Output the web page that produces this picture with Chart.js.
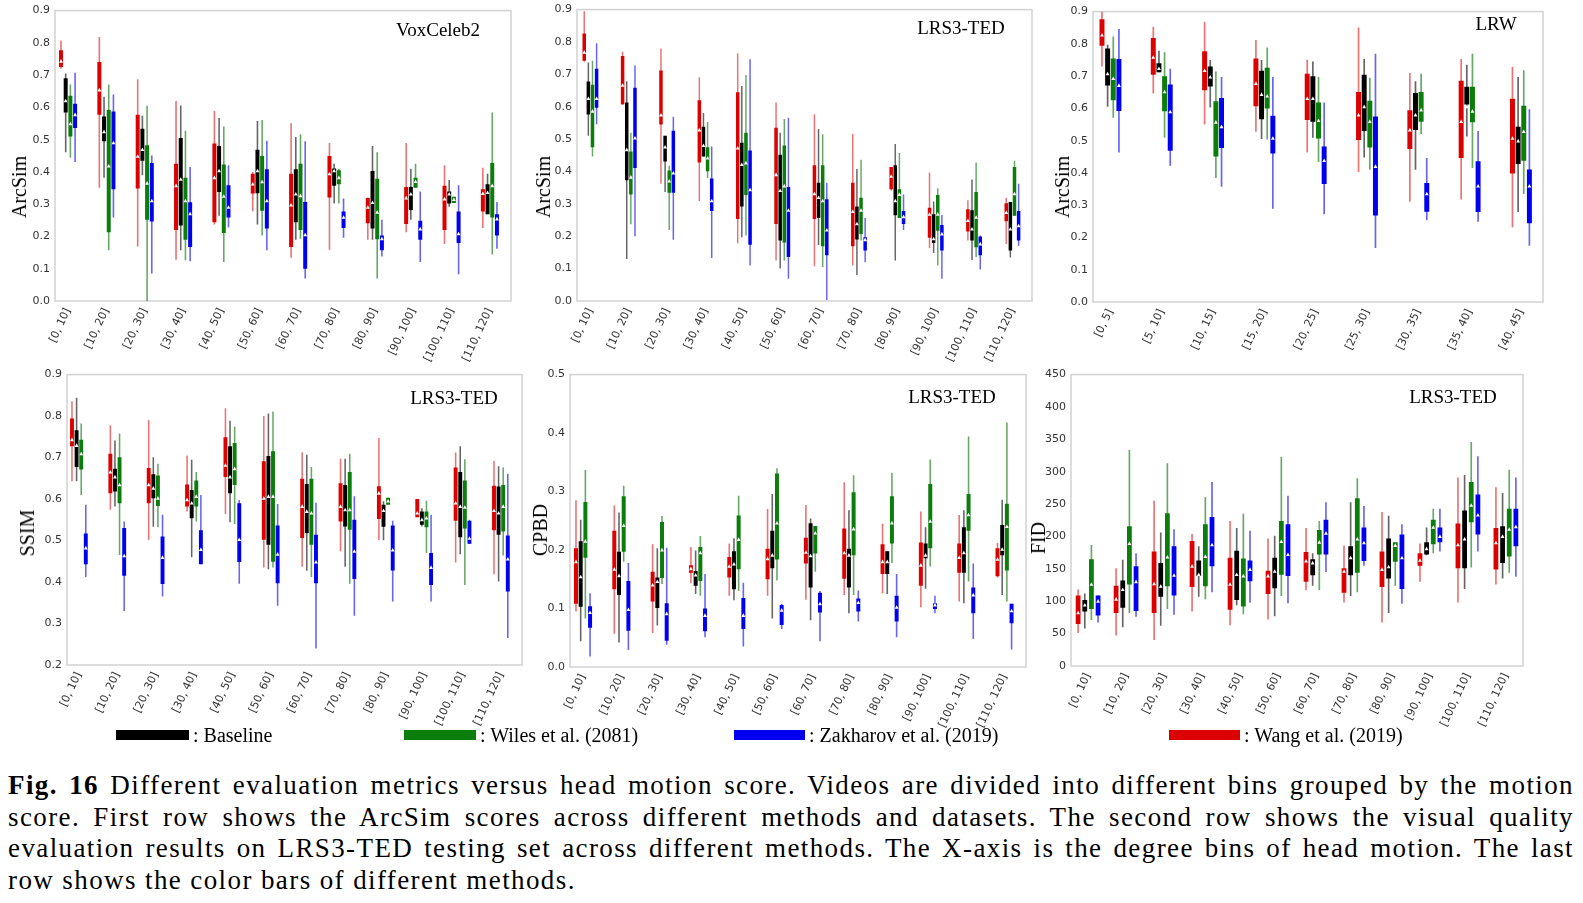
<!DOCTYPE html>
<html><head><meta charset="utf-8">
<script src="https://cdn.jsdelivr.net/npm/chart.js@4.4.0/dist/chart.umd.min.js"></script>
<style>
body{margin:0;background:#fff;width:1583px;height:903px;position:relative;overflow:hidden;}
canvas{position:absolute;}
.yt{position:absolute;font-family:'Liberation Serif',serif;font-size:20px;transform:translate(-50%,-50%) rotate(-90deg);white-space:nowrap;color:#000;line-height:1}
.pt{position:absolute;font-family:'Liberation Serif',serif;font-size:19px;transform:translate(-50%,-50%);white-space:nowrap;color:#000;line-height:1}
.lg{position:absolute;height:10px;}
.lt{position:absolute;font-family:'Liberation Serif',serif;font-size:20px;white-space:nowrap;line-height:1;transform:translateY(-50%)}
#cap{position:absolute;left:8px;top:770px;width:1566px;font-family:'Liberation Serif',serif;font-size:27px;letter-spacing:1.4px;line-height:31.7px;color:#000}
#cap div{text-align:justify;text-align-last:justify;white-space:nowrap}
#cap div.last{text-align-last:left}
</style></head><body>
<script>
// ---- categories & ticks ----
const bins10 = ['[0, 10]','[10, 20]','[20, 30]','[30, 40]','[40, 50]','[50, 60]','[60, 70]','[70, 80]','[80, 90]','[90, 100]','[100, 110]','[110, 120]'];
const bins5 = ['[0, 5]','[5, 10]','[10, 15]','[15, 20]','[20, 25]','[25, 30]','[30, 35]','[35, 40]','[40, 45]'];
const ticksArc = [0,0.1,0.2,0.3,0.4,0.5,0.6,0.7,0.8,0.9];
const ticksSsim = [0.2,0.3,0.4,0.5,0.6,0.7,0.8,0.9];
const ticksCpbd = [0,0.1,0.2,0.3,0.4,0.5];
const ticksFid = [0,50,100,150,200,250,300,350,400,450];

// each row: [min, q1, q3, max, mean]
// VoxCeleb2 ArcSim
const voxWang = [[0.72,0.725,0.777,0.807,0.743],[0.351,0.577,0.741,0.818,0.654],[0.169,0.349,0.577,0.687,0.448],[0.128,0.22,0.425,0.62,0.357],[0.237,0.244,0.488,0.589,0.382],[0.278,0.333,0.394,0.4,0.362],[0.134,0.167,0.394,0.551,0.297],[0.159,0.321,0.449,0.49,0.394],[0.19,0.241,0.319,0.321,0.29],[0.213,0.239,0.353,0.49,0.319],[0.177,0.22,0.357,0.421,0.316],[0.226,0.277,0.346,0.413,0.333]];
const voxBase = [[0.461,0.584,0.69,0.705,0.62],[0.382,0.495,0.572,0.633,0.524],[0.39,0.435,0.534,0.574,0.469],[0.157,0.234,0.505,0.606,0.377],[0.264,0.338,0.48,0.567,0.403],[0.237,0.334,0.469,0.558,0.403],[0.19,0.244,0.408,0.508,0.331],[0.302,0.357,0.411,0.425,0.403],[0.19,0.225,0.403,0.48,0.305],[0.252,0.282,0.353,0.41,0.331],[0.292,0.302,0.339,0.375,0.331],[0.269,0.269,0.362,0.394,0.336]];
const voxWiles = [[0.444,0.51,0.636,0.671,0.549],[0.157,0.213,0.592,0.671,0.418],[0.0,0.252,0.483,0.605,0.365],[0.126,0.19,0.382,0.528,0.31],[0.121,0.211,0.423,0.541,0.324],[0.203,0.28,0.449,0.561,0.369],[0.193,0.22,0.425,0.517,0.326],[0.302,0.362,0.405,0.41,0.382],[0.07,0.191,0.379,0.461,0.275],[0.351,0.351,0.382,0.425,0.37],[0.304,0.304,0.323,0.323,0.314],[0.144,0.259,0.428,0.584,0.357]];
const voxZakh = [[0.431,0.536,0.611,0.707,0.577],[0.259,0.346,0.587,0.64,0.49],[0.085,0.246,0.428,0.451,0.31],[0.123,0.167,0.306,0.415,0.27],[0.228,0.259,0.359,0.421,0.29],[0.157,0.225,0.408,0.497,0.31],[0.07,0.1,0.307,0.495,0.205],[0.196,0.226,0.277,0.318,0.259],[0.138,0.157,0.203,0.252,0.193],[0.121,0.19,0.249,0.339,0.223],[0.083,0.18,0.277,0.359,0.208],[0.162,0.203,0.269,0.307,0.254]];
// LRS3-TED ArcSim
const lrsWang = [[0.739,0.742,0.826,0.895,0.768],[0.605,0.608,0.757,0.77,0.666],[0.362,0.545,0.712,0.78,0.574],[0.309,0.428,0.62,0.691,0.528],[0.178,0.253,0.645,0.765,0.472],[0.125,0.238,0.535,0.613,0.39],[0.107,0.253,0.419,0.577,0.331],[0.11,0.169,0.365,0.516,0.276],[0.341,0.345,0.414,0.414,0.385],[0.164,0.195,0.288,0.396,0.268],[0.187,0.215,0.283,0.311,0.248],[0.176,0.246,0.302,0.319,0.273]];
const lrsBase = [[0.51,0.576,0.678,0.737,0.625],[0.13,0.373,0.613,0.679,0.467],[0.337,0.431,0.51,0.51,0.475],[0.446,0.446,0.538,0.581,0.48],[0.197,0.292,0.489,0.664,0.421],[0.1,0.187,0.452,0.52,0.341],[0.173,0.256,0.365,0.531,0.319],[0.08,0.19,0.292,0.408,0.238],[0.125,0.265,0.419,0.485,0.309],[0.148,0.179,0.268,0.307,0.192],[0.127,0.187,0.28,0.375,0.222],[0.134,0.156,0.306,0.306,0.222]];
const lrsWiles = [[0.446,0.475,0.668,0.742,0.586],[0.237,0.329,0.462,0.52,0.382],[0.219,0.334,0.403,0.418,0.37],[0.38,0.401,0.475,0.553,0.441],[0.202,0.327,0.52,0.698,0.426],[0.125,0.181,0.48,0.562,0.355],[0.105,0.169,0.419,0.515,0.309],[0.187,0.207,0.319,0.436,0.28],[0.256,0.256,0.345,0.457,0.329],[0.11,0.217,0.327,0.348,0.268],[0.136,0.166,0.337,0.428,0.258],[0.263,0.263,0.414,0.433,0.331]];
const lrsZakh = [[0.546,0.597,0.717,0.796,0.625],[0.2,0.411,0.659,0.727,0.503],[0.189,0.334,0.526,0.569,0.395],[0.133,0.278,0.378,0.477,0.309],[0.11,0.174,0.465,0.747,0.343],[0.069,0.136,0.352,0.566,0.28],[0.003,0.141,0.314,0.365,0.219],[0.12,0.156,0.197,0.256,0.189],[0.219,0.238,0.278,0.329,0.26],[0.069,0.156,0.235,0.266,0.207],[0.097,0.141,0.199,0.202,0.176],[0.171,0.187,0.278,0.362,0.232]];
// LRW ArcSim
const lrwWang = [[0.73,0.794,0.876,0.9,0.827],[0.646,0.704,0.818,0.853,0.758],[0.55,0.656,0.777,0.868,0.717],[0.528,0.607,0.755,0.812,0.677],[0.463,0.564,0.707,0.751,0.63],[0.403,0.502,0.651,0.851,0.579],[0.311,0.474,0.594,0.71,0.533],[0.318,0.446,0.686,0.753,0.559],[0.232,0.398,0.63,0.728,0.507]];
const lrwBase = [[0.605,0.671,0.786,0.797,0.707],[0.712,0.712,0.74,0.779,0.723],[0.603,0.668,0.73,0.75,0.697],[0.505,0.566,0.717,0.75,0.643],[0.509,0.559,0.7,0.745,0.63],[0.448,0.53,0.704,0.753,0.605],[0.41,0.533,0.648,0.684,0.579],[0.513,0.612,0.667,0.735,0.605],[0.279,0.428,0.543,0.697,0.499]];
const lrwWiles = [[0.571,0.625,0.755,0.823,0.692],[0.509,0.591,0.7,0.774,0.651],[0.384,0.451,0.622,0.714,0.557],[0.504,0.6,0.726,0.789,0.638],[0.434,0.507,0.618,0.697,0.562],[0.41,0.479,0.624,0.695,0.559],[0.52,0.559,0.651,0.707,0.595],[0.415,0.557,0.667,0.769,0.591],[0.335,0.438,0.608,0.718,0.528]];
const lrwZakh = [[0.463,0.592,0.753,0.846,0.671],[0.422,0.469,0.674,0.723,0.589],[0.357,0.477,0.632,0.697,0.543],[0.289,0.46,0.577,0.697,0.507],[0.272,0.366,0.482,0.618,0.438],[0.167,0.268,0.575,0.769,0.42],[0.253,0.28,0.369,0.446,0.335],[0.249,0.279,0.436,0.53,0.359],[0.174,0.244,0.411,0.597,0.359]];
// LRS3-TED SSIM
const ssimWang = [[0.643,0.727,0.794,0.836,0.743],[0.574,0.614,0.709,0.778,0.665],[0.502,0.59,0.675,0.79,0.634],[0.57,0.582,0.635,0.705,0.598],[0.564,0.653,0.749,0.819,0.681],[0.435,0.502,0.691,0.8,0.602],[0.437,0.506,0.649,0.713,0.582],[0.474,0.546,0.638,0.697,0.582],[0.501,0.552,0.631,0.747,0.614],[0.556,0.556,0.6,0.6,0.566],[0.447,0.548,0.676,0.712,0.59],[0.419,0.525,0.632,0.692,0.572]];
const ssimBase = [[0.643,0.677,0.766,0.844,0.729],[0.582,0.618,0.673,0.741,0.653],[0.533,0.602,0.66,0.701,0.626],[0.46,0.554,0.622,0.695,0.59],[0.544,0.614,0.727,0.789,0.653],[0.431,0.49,0.704,0.806,0.606],[0.427,0.518,0.636,0.707,0.57],[0.437,0.534,0.634,0.697,0.574],[0.501,0.533,0.586,0.595,0.572],[0.534,0.538,0.57,0.578,0.55],[0.467,0.508,0.665,0.727,0.582],[0.401,0.514,0.63,0.679,0.566]];
const ssimWiles = [[0.61,0.671,0.743,0.782,0.709],[0.465,0.59,0.701,0.758,0.634],[0.532,0.583,0.657,0.685,0.602],[0.546,0.582,0.645,0.665,0.606],[0.54,0.634,0.735,0.775,0.673],[0.435,0.449,0.715,0.811,0.606],[0.412,0.49,0.649,0.677,0.566],[0.396,0.526,0.665,0.709,0.574],[0.586,0.586,0.603,0.603,0.595],[0.47,0.532,0.57,0.596,0.554],[0.393,0.529,0.645,0.696,0.58],[0.464,0.522,0.634,0.676,0.582]];
const ssimZakh = [[0.412,0.443,0.517,0.586,0.482],[0.33,0.415,0.53,0.546,0.463],[0.365,0.395,0.51,0.562,0.459],[0.443,0.443,0.525,0.61,0.478],[0.396,0.448,0.59,0.598,0.502],[0.343,0.397,0.536,0.588,0.467],[0.24,0.397,0.514,0.591,0.448],[0.319,0.407,0.55,0.607,0.474],[0.353,0.428,0.536,0.548,0.477],[0.353,0.393,0.47,0.562,0.435],[0.492,0.492,0.548,0.55,0.505],[0.265,0.377,0.512,0.661,0.455]];
// LRS3-TED CPBD
const cpbdWang = [[0.095,0.108,0.203,0.285,0.18],[0.057,0.133,0.233,0.276,0.167],[0.058,0.112,0.163,0.21,0.14],[0.143,0.161,0.174,0.205,0.168],[0.122,0.153,0.188,0.211,0.172],[0.122,0.15,0.202,0.27,0.185],[0.115,0.177,0.221,0.277,0.196],[0.123,0.151,0.237,0.316,0.195],[0.126,0.159,0.21,0.245,0.18],[0.102,0.139,0.213,0.266,0.174],[0.112,0.161,0.211,0.26,0.187],[0.153,0.155,0.203,0.212,0.184]];
const cpbdBase = [[0.044,0.103,0.215,0.252,0.154],[0.042,0.123,0.197,0.264,0.156],[0.071,0.101,0.153,0.203,0.146],[0.125,0.139,0.164,0.199,0.157],[0.114,0.133,0.198,0.22,0.176],[0.083,0.169,0.233,0.296,0.191],[0.08,0.136,0.246,0.254,0.19],[0.092,0.136,0.202,0.268,0.191],[0.125,0.159,0.198,0.198,0.18],[0.134,0.186,0.211,0.239,0.191],[0.109,0.161,0.239,0.268,0.195],[0.123,0.191,0.243,0.286,0.201]];
const cpbdWiles = [[0.083,0.187,0.282,0.337,0.215],[0.18,0.197,0.292,0.31,0.242],[0.142,0.152,0.248,0.258,0.2],[0.122,0.147,0.205,0.224,0.195],[0.13,0.167,0.259,0.293,0.218],[0.148,0.184,0.331,0.34,0.246],[0.163,0.194,0.241,0.241,0.229],[0.123,0.191,0.299,0.328,0.236],[0.178,0.211,0.292,0.332,0.246],[0.172,0.203,0.313,0.355,0.249],[0.146,0.233,0.296,0.394,0.26],[0.112,0.165,0.279,0.418,0.24]];
const cpbdZakh = [[0.018,0.067,0.104,0.126,0.093],[0.029,0.062,0.147,0.178,0.098],[0.038,0.045,0.109,0.204,0.091],[0.051,0.061,0.1,0.159,0.088],[0.035,0.065,0.118,0.144,0.088],[0.065,0.072,0.106,0.108,0.097],[0.044,0.093,0.127,0.13,0.108],[0.078,0.095,0.117,0.131,0.11],[0.051,0.078,0.122,0.159,0.102],[0.092,0.099,0.109,0.122,0.106],[0.048,0.092,0.136,0.177,0.123],[0.03,0.075,0.108,0.108,0.096]];
// LRS3-TED FID
const fidWang = [[51,65,109,118,82],[47,82,124,151,103],[40,82,177,255,127],[84,122,193,204,154],[63,87,167,224,126],[72,111,147,197,139],[117,130,176,213,162],[98,113,151,186,146],[67,122,177,238,149],[130,155,174,189,163],[98,151,220,291,187],[126,149,213,276,190]];
const fidBase = [[58,84,102,112,94],[60,90,132,164,118],[62,107,159,206,123],[107,139,163,185,141],[94,102,178,213,141],[77,120,167,201,146],[124,140,165,174,159],[108,140,185,253,167],[82,135,197,232,153],[171,172,191,214,181],[119,151,240,295,196],[135,159,216,267,200]];
const fidWiles = [[71,88,165,187,126],[82,126,216,334,189],[88,123,236,313,168],[103,123,219,261,169],[80,92,166,235,139],[108,141,224,323,192],[117,172,210,224,191],[114,144,259,290,196],[124,161,191,191,186],[174,188,226,243,214],[152,222,284,346,248],[144,169,243,303,211]];
const fidZakh = [[67,78,109,109,100],[76,85,154,174,130],[79,109,185,211,140],[114,154,230,284,187],[98,131,163,209,149],[97,139,219,263,172],[145,172,226,253,205],[155,162,214,247,190],[96,119,203,219,167],[177,191,214,243,200],[177,203,265,324,233],[138,185,243,291,215]];

const methods = [
  {key:'wang', name:'Wang et al. (2019)', box:'#dc0000', wh:'rgba(225,40,40,0.65)'},
  {key:'base', name:'Baseline', box:'#000000', wh:'rgba(20,20,20,0.65)'},
  {key:'wiles', name:'Wiles et al. (2081)', box:'#0b7d0b', wh:'rgba(20,125,20,0.65)'},
  {key:'zakh', name:'Zakharov et al. (2019)', box:'#0000f0', wh:'rgba(20,20,235,0.65)'}
];

const panels = [
  {box:[55,8,511,301], labels:bins10, ticks:ticksArc, dec:1, series:[voxWang,voxBase,voxWiles,voxZakh], xr:[-0.34,11.55], cat:0.49, bp:0.85, wp:0.34, yTitle:'ArcSim', yT:[19,187], title:'VoxCeleb2', tT:[438,29]},
  {box:[577,7,1032,301], labels:bins10, ticks:ticksArc, dec:1, series:[lrsWang,lrsBase,lrsWiles,lrsZakh], xr:[-0.35,11.51], cat:0.43, bp:0.85, wp:0.36, yTitle:'ArcSim', yT:[543,187], title:'LRS3-TED', tT:[961,27]},
  {box:[1093,9,1543,302], labels:bins5, ticks:ticksArc, dec:1, series:[lrwWang,lrwBase,lrwWiles,lrwZakh], xr:[-0.34,8.43], cat:0.44, bp:0.88, wp:0.3, yTitle:'ArcSim', yT:[1062,187], title:'LRW', tT:[1496,23]},
  {box:[67,372,522,665], labels:bins10, ticks:ticksSsim, dec:1, series:[ssimWang,ssimBase,ssimWiles,ssimZakh], xr:[-0.31,11.55], cat:0.48, bp:0.85, wp:0.34, yTitle:'SSIM', yT:[27,533], title:'LRS3-TED', tT:[454,397]},
  {box:[570,372,1026,667], labels:bins10, ticks:ticksCpbd, dec:1, series:[cpbdWang,cpbdBase,cpbdWiles,cpbdZakh], xr:[-0.34,11.56], cat:0.49, bp:0.85, wp:0.34, yTitle:'CPBD', yT:[540,530], title:'LRS3-TED', tT:[952,396]},
  {box:[1071,372,1523,666], labels:bins10, ticks:ticksFid, dec:0, series:[fidWang,fidBase,fidWiles,fidZakh], xr:[-0.45,11.45], cat:0.70, bp:0.72, wp:0.25, yTitle:'FID', yT:[1038,538], title:'LRS3-TED', tT:[1453,396]}
];

const framePlugin = {id:'frame', beforeDatasetsDraw(chart){
  const {ctx, chartArea:a} = chart; ctx.save(); ctx.strokeStyle='#d2d2d2'; ctx.lineWidth=1.5;
  ctx.strokeRect(a.left, a.top, a.right-a.left, a.bottom-a.top); ctx.restore(); }};
const meanPlugin = {id:'means', afterDatasetsDraw(chart){
  const ctx = chart.ctx, ys = chart.scales.y;
  chart.data.datasets.forEach((ds, di) => {
    if (!ds.isBox) return;
    chart.getDatasetMeta(di).data.forEach((el, i) => {
      const py = ys.getPixelForValue(ds.means[i]), px = el.x;
      ctx.fillStyle = '#ffffff'; ctx.beginPath();
      ctx.moveTo(px, py-2.2); ctx.lineTo(px+1.9, py+1.4); ctx.lineTo(px-1.9, py+1.4); ctx.closePath(); ctx.fill();
    });
  });
}};

function addText(cls, txt, x, y){ const d=document.createElement('div'); d.className=cls; d.textContent=txt; d.style.left=x+'px'; d.style.top=y+'px'; document.body.appendChild(d); }

const padL=48, padR=4, padT=9, padB=76;
panels.forEach(p => {
  const [x0,y0,x1,y1] = p.box;
  const c = document.createElement('canvas');
  c.width = (x1-x0)+padL+padR; c.height = (y1-y0)+padT+padB;
  c.style.left = (x0-padL)+'px'; c.style.top = (y0-padT)+'px';
  document.body.appendChild(c);
  const datasets = [];
  methods.forEach((m,k) => datasets.push({label:m.name, stack:m.key, isBox:true,
    data:p.series[k].map((r,i)=>({x:i, y:[r[1], r[2]]})), means:p.series[k].map(r=>r[4]),
    backgroundColor:m.box, borderWidth:0, barPercentage:p.bp, categoryPercentage:p.cat}));
  methods.forEach((m,k) => datasets.push({label:m.name+' range', stack:m.key,
    data:p.series[k].map((r,i)=>({x:i, y:[r[0], r[3]]})),
    backgroundColor:m.wh, borderWidth:0, barPercentage:p.wp, categoryPercentage:p.cat}));
  const tickFont = {family:'DejaVu Sans', size:11};
  new Chart(c, {
    type:'bar',
    data:{datasets},
    plugins:[framePlugin, meanPlugin],
    options:{
      responsive:false, animation:false, devicePixelRatio:1,
      layout:{padding:{left:0, right:padR, top:padT, bottom:0}},
      plugins:{legend:{display:false}, tooltip:{enabled:false}},
      scales:{
        x:{type:'linear', min:p.xr[0], max:p.xr[1], offset:false,
          grid:{display:false, drawTicks:false}, border:{display:false},
          afterBuildTicks:s=>{ s.ticks = p.labels.map((_,i)=>({value:i})); },
          afterFit:s=>{ s.height = padB; },
          ticks:{autoSkip:false, minRotation:65, maxRotation:65, padding:5, font:tickFont, color:'#333',
            callback:v=>p.labels[v]}},
        y:{type:'linear', min:p.ticks[0], max:p.ticks[p.ticks.length-1], stacked:false,
          grid:{display:false, drawTicks:false}, border:{display:false},
          afterBuildTicks:s=>{ s.ticks = p.ticks.map(v=>({value:v})); },
          afterFit:s=>{ s.width = padL; },
          ticks:{padding:5, font:tickFont, color:'#333', callback:v=>p.dec ? v.toFixed(p.dec) : String(v)}}
      }
    }
  });
  addText('yt', p.yTitle, p.yT[0], p.yT[1]);
  addText('pt', p.title, p.tT[0], p.tT[1]);
});

// legend
const legendItems = [
  {m:1, bar:[116,189], tx:193},
  {m:2, bar:[404,476], tx:480},
  {m:3, bar:[734,805], tx:809},
  {m:0, bar:[1169,1240], tx:1244}
];
legendItems.forEach(it => {
  const b = document.createElement('div'); b.className='lg';
  b.style.left=it.bar[0]+'px'; b.style.width=(it.bar[1]-it.bar[0])+'px'; b.style.top='730px';
  b.style.background = methods[it.m].box; document.body.appendChild(b);
  addText('lt', ': '+methods[it.m].name, it.tx, 735);
});
</script>
<div id="cap">
<div><b>Fig. 16</b> Different evaluation metrics versus head motion score. Videos are divided into different bins grouped by the motion</div>
<div>score. First row shows the ArcSim scores across different methods and datasets. The second row shows the visual quality</div>
<div>evaluation results on LRS3-TED testing set across different methods. The X-axis is the degree bins of head motion. The last</div>
<div class="last">row shows the color bars of different methods.</div>
</div>
</body></html>
